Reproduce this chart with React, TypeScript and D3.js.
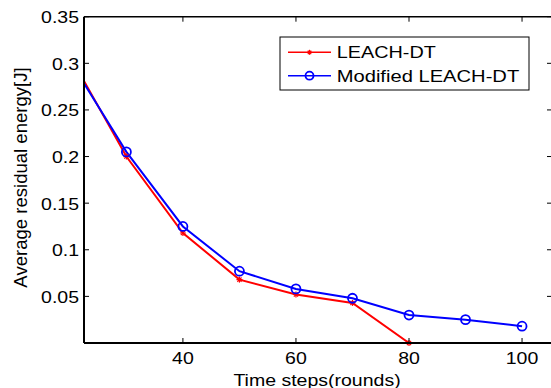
import React from "react";
import * as d3 from "d3";

const rounds = [20, 30, 40, 50, 60, 70, 80, 90, 100];
const leachDT = [0.308, 0.2, 0.118, 0.068, 0.052, 0.043, 0.0];
const modifiedLeachDT = [0.303, 0.205, 0.125, 0.077, 0.058, 0.048, 0.030, 0.025, 0.018];
const xTicks = [40, 60, 80, 100];
const yTicks = [0.05, 0.1, 0.15, 0.2, 0.25, 0.3, 0.35];
const yTickLabels = ["0.05", "0.1", "0.15", "0.2", "0.25", "0.3", "0.35"];
const seriesNames = ["LEACH-DT", "Modified LEACH-DT"];

const W = 551;
const H = 388;
const left = 84;
const right = 552;
const top = 16.7;
const bottom = 343;
const FONT = "'Liberation Sans', Arial, Helvetica, sans-serif";
const SX = 1.22;

export default function App() {
  const x = d3.scaleLinear().domain([22.5, 105.3]).range([left, right]);
  const y = d3.scaleLinear().domain([0, 0.35]).range([bottom, top]);

  const redPts: [number, number][] = leachDT.map((v, i) => [rounds[i], v]);
  const bluePts: [number, number][] = modifiedLeachDT.map((v, i) => [rounds[i], v]);
  const line = d3
    .line<[number, number]>()
    .x((d) => x(d[0]))
    .y((d) => y(d[1]));

  const star = (cx: number, cy: number, r: number, color: string, key: string) => (
    <g key={key} stroke={color} strokeWidth={1.2}>
      <line x1={cx - r} y1={cy} x2={cx + r} y2={cy} />
      <line x1={cx} y1={cy - r} x2={cx} y2={cy + r} />
      <line x1={cx - r * 0.7} y1={cy - r * 0.7} x2={cx + r * 0.7} y2={cy + r * 0.7} />
      <line x1={cx - r * 0.7} y1={cy + r * 0.7} x2={cx + r * 0.7} y2={cy - r * 0.7} />
    </g>
  );

  const tl = 5;
  const legX = 280;
  const legY = 37;
  const legW = 249;
  const legH = 53;

  return (
    <div style={{ position: "fixed", left: 0, top: 0 }}>
      <svg width={W} height={H} style={{ display: "block", background: "#fff" }}>
        <defs>
          <clipPath id="plotclip">
            <rect x={left} y={top - 6} width={right - left} height={bottom - top + 12} />
          </clipPath>
          <clipPath id="lineclip">
            <rect x={left} y={top} width={right - left} height={bottom - top} />
          </clipPath>
        </defs>
        <rect x={0} y={0} width={W} height={H} fill="#fff" />

        {/* data */}
        <g clipPath="url(#lineclip)">
          <path d={line(redPts) || ""} fill="none" stroke="#ff0000" strokeWidth={2} />
          <path d={line(bluePts) || ""} fill="none" stroke="#0000ff" strokeWidth={2} />
        </g>
        <g clipPath="url(#plotclip)">
          {redPts.map((p, i) => star(x(p[0]), y(p[1]), 3, "#ff0000", "r" + i))}
          {bluePts.map((p, i) => (
            <circle key={"b" + i} cx={x(p[0])} cy={y(p[1])} r={4.5} fill="none" stroke="#0000ff" strokeWidth={1.8} />
          ))}
        </g>

        {/* axes frame */}
        <line x1={left} y1={top} x2={left} y2={bottom} stroke="#000" strokeWidth={2} />
        <line x1={left} y1={bottom} x2={right} y2={bottom} stroke="#000" strokeWidth={2} />
        <line x1={left} y1={top} x2={right} y2={top} stroke="#000" strokeWidth={1.5} />
        <line x1={right} y1={top} x2={right} y2={bottom} stroke="#000" strokeWidth={1.5} />

        {/* y ticks */}
        {yTicks.map((t, i) => (
          <g key={"yt" + i}>
            <line x1={left} y1={y(t)} x2={left + tl} y2={y(t)} stroke="#000" strokeWidth={1} />
            <line x1={right - tl} y1={y(t)} x2={right} y2={y(t)} stroke="#000" strokeWidth={1} />
            <text
              transform={`translate(79,${y(t) + 6.5}) scale(${SX},1)`}
              textAnchor="end"
              fontFamily={FONT}
              fontSize={16}
              fill="#000"
            >
              {yTickLabels[i]}
            </text>
          </g>
        ))}

        {/* x ticks */}
        {xTicks.map((t, i) => (
          <g key={"xt" + i}>
            <line x1={x(t)} y1={bottom} x2={x(t)} y2={bottom - tl} stroke="#000" strokeWidth={1} />
            <line x1={x(t)} y1={top} x2={x(t)} y2={top + tl} stroke="#000" strokeWidth={1} />
            <text
              transform={`translate(${x(t)},363.5) scale(${SX},1)`}
              textAnchor="middle"
              fontFamily={FONT}
              fontSize={16}
              fill="#000"
            >
              {String(t)}
            </text>
          </g>
        ))}

        {/* axis labels */}
        <text
          transform={`translate(${(left + 550) / 2},385.5) scale(${SX},1)`}
          textAnchor="middle"
          fontFamily={FONT}
          fontSize={16}
          fill="#000"
        >
          Time steps(rounds)
        </text>
        <text
          transform={`translate(27,177.5) rotate(-90) scale(1.16,1.15)`}
          textAnchor="middle"
          fontFamily={FONT}
          fontSize={16}
          fill="#000"
        >
          Average residual energy[J]
        </text>

        {/* legend */}
        <rect x={legX} y={legY} width={legW} height={legH} fill="#fff" stroke="#000" strokeWidth={1} />
        <line x1={288} y1={52.3} x2={331} y2={52.3} stroke="#ff0000" strokeWidth={1.5} />
        {star(309.5, 52.3, 2.5, "#ff0000", "legstar")}
        <line x1={288} y1={75.7} x2={331} y2={75.7} stroke="#0000ff" strokeWidth={1.5} />
        <circle cx={309.5} cy={75.7} r={4} fill="none" stroke="#0000ff" strokeWidth={1.8} />
        <text
          transform={`translate(336.7,58.3) scale(1.24,1)`}
          fontFamily={FONT}
          fontSize={16}
          fill="#000"
        >
          {seriesNames[0]}
        </text>
        <text
          transform={`translate(336.7,81.5) scale(1.26,1)`}
          fontFamily={FONT}
          fontSize={16}
          fill="#000"
        >
          {seriesNames[1]}
        </text>
      </svg>
    </div>
  );
}
